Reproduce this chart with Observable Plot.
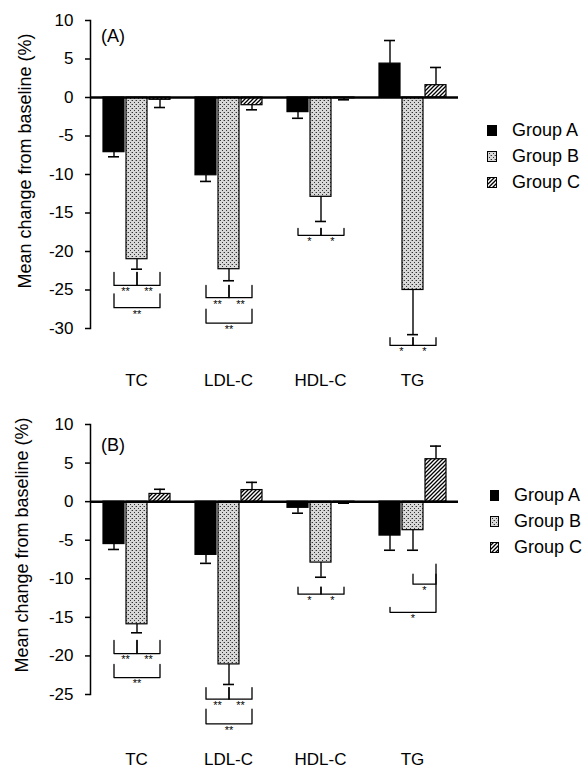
<!DOCTYPE html>
<html>
<head>
<meta charset="utf-8">
<script src="https://cdn.jsdelivr.net/npm/d3@7"></script>
<script src="https://cdn.jsdelivr.net/npm/@observablehq/plot@0.6"></script>
<style>
  html, body { margin: 0; padding: 0; background: #fff; overflow: hidden; }
  #root { position: relative; width: 585px; height: 772px; font-family: 'Liberation Sans', Arial, sans-serif; color: #000; }
  .abs { position: absolute; white-space: nowrap; }
  .ylab { font-size: 18px; transform: translate(-50%, -50%) rotate(-90deg); }
  .letter { font-size: 18px; transform: translateY(-50%); }
  .legend { font-size: 18px; }
  .legend .row { display: flex; align-items: center; height: 26px; }
  .legend svg { margin-right: 15px; }
</style>
</head>
<body>
<div id="root">
  <svg width="0" height="0" style="position:absolute">
    <defs>
      <pattern id="dots" width="4" height="4" patternUnits="userSpaceOnUse">
        <rect width="4" height="4" fill="#d8d8d8"></rect>
        <rect x="0" y="0" width="1" height="1" fill="#333"></rect>
        <rect x="2" y="2" width="1" height="1" fill="#333"></rect>
        <rect x="3" y="0" width="1" height="1" fill="#999"></rect>
      </pattern>
      <pattern id="hatch" width="4" height="4" patternUnits="userSpaceOnUse">
        <rect width="4" height="4" fill="#fff"></rect>
        <path d="M-1,1 l2,-2 M0,4 l4,-4 M3,5 l2,-2" stroke="#000" stroke-width="1.3"></path>
      </pattern>
    </defs>
  </svg>
  <div id="panelA" class="abs" style="left:0;top:0"></div>
  <div id="panelB" class="abs" style="left:0;top:390px"></div>
</div>
<script>
// ---------- data ----------
const categories = ["TC", "LDL-C", "HDL-C", "TG"];
const groups = ["Group A", "Group B", "Group C"];
const groupFills = ["#000", "url(#dots)", "url(#hatch)"];
const yLabel = "Mean change from baseline (%)";

// Panel (A)
const panelA_mean_A = [-7.1, -10.1, -1.9, 4.4];
const panelA_mean_B = [-21.0, -22.3, -12.9, -25.0];
const panelA_mean_C = [-0.3, -1.0, -0.1, 1.6];
const panelA_err_A = [0.6, 0.8, 0.8, 3.0];
const panelA_err_B = [1.3, 1.5, 3.2, 5.8];
const panelA_err_C = [1.0, 0.6, 0.2, 2.3];
const panelA_yTicks = [10, 5, 0, -5, -10, -15, -20, -25, -30];
// [category, from group, to group, left top, right top, bottom, label]
const panelA_brackets = [
  ["TC", "Group A", "Group B", -22.7, -22.7, -24.4, "**"],
  ["TC", "Group B", "Group C", -22.7, -22.7, -24.4, "**"],
  ["TC", "Group A", "Group C", -25.5, -25.5, -27.3, "**"],
  ["LDL-C", "Group A", "Group B", -24.4, -24.4, -26.0, "**"],
  ["LDL-C", "Group B", "Group C", -24.4, -24.4, -26.0, "**"],
  ["LDL-C", "Group A", "Group C", -27.5, -27.5, -29.3, "**"],
  ["HDL-C", "Group A", "Group B", -17.0, -17.0, -17.9, "*"],
  ["HDL-C", "Group B", "Group C", -17.0, -17.0, -17.9, "*"],
  ["TG", "Group A", "Group B", -31.2, -31.2, -32.2, "*"],
  ["TG", "Group B", "Group C", -31.2, -31.2, -32.2, "*"]
];

// Panel (B)
const panelB_mean_A = [-5.5, -6.9, -0.8, -4.4];
const panelB_mean_B = [-15.9, -21.1, -7.9, -3.7];
const panelB_mean_C = [1.0, 1.5, -0.05, 5.5];
const panelB_err_A = [0.7, 1.1, 0.7, 1.9];
const panelB_err_B = [1.1, 2.6, 1.9, 2.6];
const panelB_err_C = [0.6, 1.0, 0.15, 1.7];
const panelB_yTicks = [10, 5, 0, -5, -10, -15, -20, -25];
const panelB_brackets = [
  ["TC", "Group A", "Group B", -18.0, -18.0, -19.7, "**"],
  ["TC", "Group B", "Group C", -18.0, -18.0, -19.7, "**"],
  ["TC", "Group A", "Group C", -21.1, -21.1, -22.8, "**"],
  ["LDL-C", "Group A", "Group B", -24.1, -24.1, -25.6, "**"],
  ["LDL-C", "Group B", "Group C", -24.1, -24.1, -25.6, "**"],
  ["LDL-C", "Group A", "Group C", -26.9, -26.9, -28.8, "**"],
  ["HDL-C", "Group A", "Group B", -11.1, -11.1, -12.0, "*"],
  ["HDL-C", "Group B", "Group C", -11.1, -11.1, -12.0, "*"],
  ["TG", "Group B", "Group C", -9.4, -9.4, -10.7, "*"],
  ["TG", "Group A", "Group C", -13.7, -8.1, -14.35, "*"]
];

// ---------- helpers ----------
const fmt = d => (d < 0 ? "-" + Math.abs(d) : String(d));

function buildRows(means, errs) {
  const rows = [];
  categories.forEach((cat, i) => groups.forEach((g, j) => {
    const value = means[j][i], err = errs[j][i];
    rows.push({cat, group: g, value, end: value + (value >= 0 ? err : -err)});
  }));
  return rows;
}

function bracketTable(list) {
  return list.map(([cat, from, to, topL, topR, bottom, label], id) => {
    const i0 = groups.indexOf(from), i1 = groups.indexOf(to);
    return {id, cat, from, to, topL, topR, bottom, label, span: i1 - i0, mid: groups[Math.round((i0 + i1) / 2)]};
  });
}

function bracketPoints(table) {
  return table.flatMap(b => [
    {id: b.id, cat: b.cat, g: b.from, y: b.topL},
    {id: b.id, cat: b.cat, g: b.from, y: b.bottom},
    {id: b.id, cat: b.cat, g: b.to, y: b.bottom},
    {id: b.id, cat: b.cat, g: b.to, y: b.topR}
  ]);
}

const W = 470, ML = 90, MR = 12;
const PI = 0.1, PO = 0.55;
const facetW = (W - ML - MR) / categories.length;
const xStep = facetW / (groups.length - PI + 2 * PO);

function panel(rows, brackets, yTicks, o) {
  const bt = bracketTable(brackets);
  return Plot.plot({
    width: W, height: o.height,
    marginLeft: ML, marginRight: MR, marginTop: o.mt, marginBottom: o.mb,
    style: {fontFamily: "'Liberation Sans', Arial, sans-serif", fontSize: "17px", color: "#000", background: "#fff", overflow: "visible"},
    fx: {domain: categories, padding: 0, axis: "bottom", tickSize: 0, tickPadding: o.fxPad, label: null},
    x: {domain: groups, paddingInner: PI, paddingOuter: PO, axis: null},
    y: {domain: [d3.min(yTicks), d3.max(yTicks)]},
    color: {domain: groups, range: groupFills},
    marks: [
      Plot.axisY(yTicks, {tickSize: 5, tickPadding: 12, tickFormat: fmt, strokeWidth: 1.5, label: null}),
      Plot.frame({anchor: "left", facetAnchor: "left", strokeWidth: 1.5}),
      Plot.barY(rows, {fx: "cat", x: "group", y: "value", fill: "group", stroke: "black", strokeWidth: 1.2}),
      Plot.ruleX(rows, {fx: "cat", x: "group", y1: "value", y2: "end", stroke: "black", strokeWidth: 1.4}),
      Plot.tickY(rows, {fx: "cat", x: "group", y: "end", insetLeft: 5, insetRight: 5, stroke: "black", strokeWidth: 1.6}),
      Plot.ruleY([0], {stroke: "black", strokeWidth: 2.5}),
      Plot.line(bracketPoints(bt), {fx: "cat", x: "g", y: "y", z: "id", stroke: "black", strokeWidth: 1.3}),
      Plot.text(bt.filter(b => b.span === 2), {fx: "cat", x: "mid", y: "bottom", text: "label", lineAnchor: "top", dy: 2, fontSize: 11, fill: "black"}),
      Plot.text(bt.filter(b => b.span === 1), {fx: "cat", x: "from", y: "bottom", text: "label", lineAnchor: "top", dy: 2, dx: xStep / 2, fontSize: 11, fill: "black"})
    ]
  });
}

function addText(cls, text, left, top) {
  const d = document.createElement("div");
  d.className = "abs " + cls;
  d.style.left = left + "px";
  d.style.top = top + "px";
  d.textContent = text;
  document.getElementById("root").appendChild(d);
}

function addLegend(left, top, sw) {
  const d = document.createElement("div");
  d.className = "abs legend";
  d.style.left = left + "px";
  d.style.top = top + "px";
  groups.forEach((g, i) => {
    const row = document.createElement("div");
    row.className = "row";
    row.innerHTML = `<svg width="${sw}" height="11"><rect x="0.5" y="0.5" width="${sw - 1}" height="10" fill="${groupFills[i]}" stroke="#000"></rect></svg><span>${g}</span>`;
    d.appendChild(row);
  });
  document.getElementById("root").appendChild(d);
}

// ---------- render ----------
const rowsA = buildRows([panelA_mean_A, panelA_mean_B, panelA_mean_C], [panelA_err_A, panelA_err_B, panelA_err_C]);
const rowsB = buildRows([panelB_mean_A, panelB_mean_B, panelB_mean_C], [panelB_err_A, panelB_err_B, panelB_err_C]);

document.getElementById("panelA").appendChild(panel(rowsA, panelA_brackets, panelA_yTicks, {height: 390, mt: 20, mb: 62, fxPad: 45}));
document.getElementById("panelB").appendChild(panel(rowsB, panelB_brackets, panelB_yTicks, {height: 382, mt: 34, mb: 78, fxPad: 58}));

addText("ylab", yLabel, 25, 161);
addText("ylab", yLabel, 22, 545);
addText("letter", "(A)", 101, 36);
addText("letter", "(B)", 101, 445);
addLegend(487, 117, 10);
addLegend(490, 482, 9);
</script>
</body>
</html>
